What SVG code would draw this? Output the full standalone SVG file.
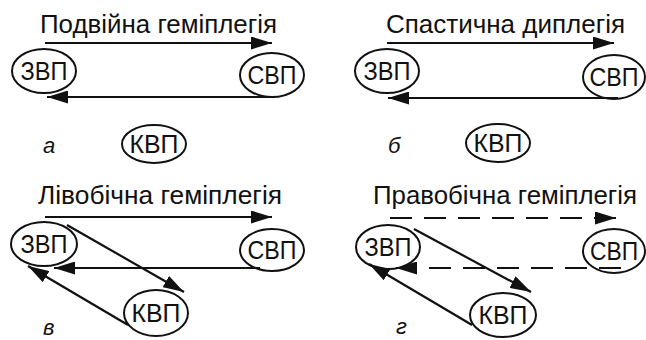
<svg xmlns="http://www.w3.org/2000/svg" width="646" height="340" viewBox="0 0 646 340">
<defs>
<marker id="ah" viewBox="0 0 21 13" refX="21" refY="6.5" markerWidth="21" markerHeight="13" markerUnits="userSpaceOnUse" orient="auto">
<path d="M0,0 L21,6.5 L0,13 Z" fill="#111"/>
</marker>
<style>
.t{font-family:"Liberation Sans",Arial,sans-serif;font-size:26px;fill:#111}
.n{font-family:"Liberation Sans",Arial,sans-serif;font-size:26px;fill:#111;text-anchor:middle}
.l{font-family:"Liberation Sans",Arial,sans-serif;font-size:22px;font-style:italic;fill:#111}
ellipse{fill:none;stroke:#111;stroke-width:2}
.c{stroke:#111;stroke-width:2.2;fill:none;marker-end:url(#ah)}
.d{stroke-dasharray:22,12}
</style>
</defs>
<rect width="646" height="340" fill="#fff"/>

<text class="t" x="40" y="33" textLength="237" lengthAdjust="spacingAndGlyphs">Подвійна геміплегія</text>
<text class="t" x="386" y="33" textLength="239" lengthAdjust="spacingAndGlyphs">Спастична диплегія</text>
<text class="t" x="38" y="204" textLength="244" lengthAdjust="spacingAndGlyphs">Лівобічна геміплегія</text>
<text class="t" x="373" y="204" font-size="25" textLength="264" lengthAdjust="spacingAndGlyphs">Правобічна геміплегія</text>

<g id="a-zvp"><ellipse cx="44" cy="71" rx="32" ry="22"/><text class="n" x="44" y="80" textLength="47" lengthAdjust="spacingAndGlyphs">ЗВП</text></g>
<g id="a-svp"><ellipse cx="272" cy="75" rx="32" ry="22"/><text class="n" x="272" y="84" textLength="49" lengthAdjust="spacingAndGlyphs">СВП</text></g>
<g id="a-kvp"><ellipse cx="154" cy="144" rx="32" ry="19"/><text class="n" x="154" y="153" textLength="49" lengthAdjust="spacingAndGlyphs">КВП</text></g>
<text class="l" x="43" y="153">а</text>

<g id="b-zvp"><ellipse cx="387" cy="71" rx="32" ry="22"/><text class="n" x="387" y="80" textLength="47" lengthAdjust="spacingAndGlyphs">ЗВП</text></g>
<g id="b-svp"><ellipse cx="614" cy="77" rx="31" ry="22"/><text class="n" x="614" y="86" textLength="49" lengthAdjust="spacingAndGlyphs">СВП</text></g>
<g id="b-kvp"><ellipse cx="498" cy="143" rx="32" ry="19"/><text class="n" x="498" y="152" textLength="49" lengthAdjust="spacingAndGlyphs">КВП</text></g>
<text class="l" x="388" y="153">б</text>

<g id="v-zvp"><ellipse cx="44" cy="244" rx="33" ry="22"/><text class="n" x="44" y="253" textLength="47" lengthAdjust="spacingAndGlyphs">ЗВП</text></g>
<g id="v-svp"><ellipse cx="272" cy="250" rx="32" ry="21"/><text class="n" x="272" y="259" textLength="49" lengthAdjust="spacingAndGlyphs">СВП</text></g>
<g id="v-kvp"><ellipse cx="156" cy="313" rx="32" ry="23"/><text class="n" x="156" y="322" textLength="49" lengthAdjust="spacingAndGlyphs">КВП</text></g>
<text class="l" x="43" y="335">в</text>

<g id="g-zvp"><ellipse cx="388" cy="247" rx="32" ry="22"/><text class="n" x="388" y="256" textLength="47" lengthAdjust="spacingAndGlyphs">ЗВП</text></g>
<g id="g-svp"><ellipse cx="614" cy="251" rx="31" ry="22"/><text class="n" x="614" y="260" font-size="25" textLength="48" lengthAdjust="spacingAndGlyphs">СВП</text></g>
<g id="g-kvp"><ellipse cx="503" cy="315" rx="33" ry="22"/><text class="n" x="503" y="324" textLength="49" lengthAdjust="spacingAndGlyphs">КВП</text></g>
<text class="l" x="396" y="334">г</text>

<g id="connectors">
<line class="c" x1="45" y1="43" x2="272" y2="43"/>
<line class="c" x1="275" y1="97" x2="47" y2="97"/>
<line class="c" x1="387" y1="43" x2="614" y2="43"/>
<line class="c" x1="618" y1="98" x2="388" y2="98"/>
<line class="c" x1="45" y1="217" x2="272" y2="217"/>
<line class="c" x1="260" y1="268" x2="54" y2="268"/>
<line class="c" x1="67" y1="225" x2="184" y2="292"/>
<line class="c" x1="128" y1="325" x2="28" y2="266"/>
<line class="c d" x1="390" y1="218" x2="616" y2="218"/>
<line class="c d" x1="621" y1="268" x2="396" y2="268"/>
<line class="c" x1="414" y1="229" x2="531" y2="292"/>
<line class="c" x1="472" y1="325" x2="369" y2="264"/>
</g>
</svg>
